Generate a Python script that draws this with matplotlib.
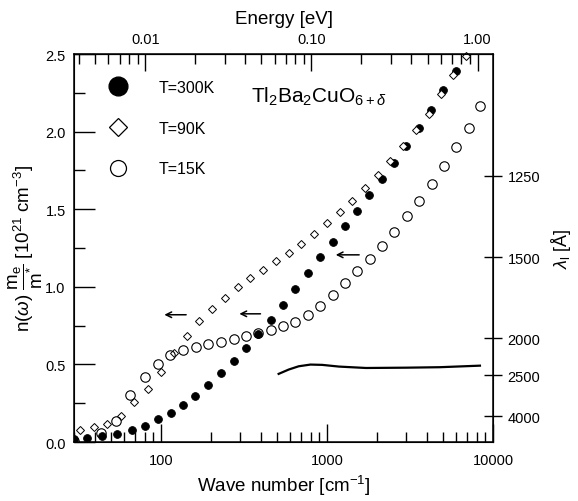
import matplotlib
matplotlib.use("Agg")
import matplotlib.pyplot as plt
from matplotlib.lines import Line2D
from matplotlib.ticker import FixedLocator, NullFormatter, NullLocator

plt.rcParams["font.family"] = ["Liberation Sans", "DejaVu Sans"]
plt.rcParams["mathtext.fontset"] = "custom"
plt.rcParams["mathtext.rm"] = "Liberation Sans"
plt.rcParams["mathtext.it"] = "Liberation Sans:italic"
plt.rcParams["mathtext.bf"] = "Liberation Sans:bold"

# T = 300 K (filled circles)
wn_300 = [30.0, 36.1, 44.1, 54.4, 66.7, 80.8, 95.9, 114.5, 136.5, 160.7, 193.5,
          231, 274, 325, 385, 458, 541, 646, 767, 907, 1083, 1285, 1514, 1798,
          2147, 2548, 2998, 3564, 4209, 5000, 5970]
n_300 = [0.019, 0.026, 0.037, 0.052, 0.077, 0.105, 0.146, 0.189, 0.237, 0.297,
         0.368, 0.447, 0.523, 0.606, 0.698, 0.788, 0.886, 0.987, 1.088, 1.189,
         1.288, 1.389, 1.489, 1.589, 1.692, 1.795, 1.907, 2.023, 2.139, 2.265, 2.392]

# T = 90 K (diamonds)
wn_90 = [32.6, 39.6, 47.7, 57.5, 69.3, 83.4, 100.4, 119.9, 144.3, 170.7, 203.8,
         243.3, 290.9, 346.2, 414, 491, 588.6, 702.6, 834, 995.8, 1194, 1424,
         1699, 2018, 2409, 2860, 3415, 4094, 4840, 5746, 6861]
n_90 = [0.079, 0.095, 0.116, 0.170, 0.256, 0.342, 0.450, 0.574, 0.682, 0.779,
        0.856, 0.929, 0.997, 1.055, 1.108, 1.165, 1.219, 1.279, 1.342, 1.411,
        1.482, 1.554, 1.637, 1.723, 1.808, 1.908, 2.008, 2.116, 2.245, 2.368, 2.49]

# T = 15 K (open circles)
wn_15 = [30.1, 43.9, 53.7, 65.5, 80.3, 95.9, 112.9, 135.9, 161.8, 192.7, 230.4,
         275.1, 325.2, 387.2, 459.1, 543.4, 646.1, 770.2, 907.1, 1083, 1285,
         1526, 1822, 2146, 2548, 3041, 3585, 4287, 5047, 6026, 7124, 8341]
n_15 = [0.005, 0.056, 0.137, 0.306, 0.421, 0.503, 0.558, 0.594, 0.610, 0.630,
        0.647, 0.665, 0.685, 0.703, 0.723, 0.746, 0.772, 0.821, 0.875, 0.948,
        1.026, 1.105, 1.181, 1.265, 1.355, 1.454, 1.554, 1.663, 1.779, 1.901,
        2.026, 2.163]

# solid curve
wn_line = [512, 589, 676, 796, 937, 1183, 1718, 2999, 4775, 8340]
n_line = [0.439, 0.467, 0.488, 0.499, 0.497, 0.486, 0.477, 0.479, 0.482, 0.492]

# arrows: (x_start, x_end, y)
arrows = [(142, 105, 0.82), (398, 297, 0.826), (1563, 1130, 1.206)]

lam_ticks = [1250, 1500, 2000, 2500, 4000]
K_LAM = 2.68e6          # n [1e21 cm^-3] = K / lambda^2
EV = 8065.5             # cm^-1 per eV

fig = plt.figure(figsize=(5.78, 5.02), dpi=100)
ax = fig.add_axes([0.128, 0.1175, 0.725, 0.7729])

ax.plot(wn_300, n_300, "o", color="black", ms=5.6, mew=0.6)
ax.plot(wn_90, n_90, "D", mfc="white", mec="black", ms=4.2, mew=0.7,
        clip_on=False)
ax.plot(wn_15, n_15, "o", mfc="none", mec="black", ms=6.8, mew=0.8)
ax.plot(wn_line, n_line, "-", color="black", lw=1.6)

for x0, x1, y in arrows:
    ax.annotate("", xy=(x1, y), xytext=(x0, y),
                arrowprops=dict(arrowstyle="->", lw=1.1, color="black",
                                shrinkA=0, shrinkB=0))

ax.set_xscale("log")
ax.set_xlim(30, 10000)
ax.set_ylim(0, 2.5)
ax.set_xticks([100, 1000, 10000])
ax.set_xticklabels(["100", "1000", "10000"])
ax.xaxis.set_minor_formatter(NullFormatter())
ax.set_yticks([0.0, 0.5, 1.0, 1.5, 2.0, 2.5])
ax.set_yticklabels(["0.0", "0.5", "1.0", "1.5", "2.0", "2.5"])
ax.yaxis.set_minor_locator(FixedLocator([0.25, 0.75, 1.25, 1.75, 2.25]))
ax.tick_params(axis="x", which="major", direction="in", length=13, width=1,
               labelsize=10.5, pad=8)
ax.tick_params(axis="x", which="minor", direction="in", length=7, width=1)
ax.tick_params(axis="y", which="major", direction="in", length=15, width=1,
               labelsize=10.5, pad=6, right=False)
ax.tick_params(axis="y", which="minor", direction="in", length=8, width=1,
               right=False)
for s in ax.spines.values():
    s.set_linewidth(1.1)

ax.set_xlabel(r"Wave number [cm$^{-1}$]", fontsize=13.5, labelpad=4)
ax.set_ylabel(r"n($\omega$) $\dfrac{\mathrm{m_e}}{\mathrm{m^{*}}}$ [10$^{21}$ cm$^{-3}$]",
              fontsize=13.5, labelpad=0)

# top energy axis
top = ax.secondary_xaxis("top", functions=(lambda w: w / EV, lambda e: e * EV))
top.set_xticks([0.01, 0.1, 1.0])
top.set_xticklabels(["0.01", "0.10", "1.00"])
top.xaxis.set_minor_formatter(NullFormatter())
top.tick_params(which="major", direction="in", length=12, width=1,
                labelsize=10.5, pad=6)
top.tick_params(which="minor", direction="in", length=7, width=1)
top.set_xlabel("Energy [eV]", fontsize=13.5, labelpad=6)

# right penetration-depth axis
ax2 = ax.twinx()
ax2.set_ylim(ax.get_ylim())
ax2.set_yticks([K_LAM / l ** 2 for l in lam_ticks])
ax2.set_yticklabels([str(l) for l in lam_ticks])
ax2.yaxis.set_minor_locator(NullLocator())
ax2.tick_params(axis="y", direction="inout", length=13, width=1,
                labelsize=10.5, pad=4)
ax2.set_ylabel(r"$\lambda_{\mathrm{l}}$ [$\mathrm{\AA}$]", fontsize=13,
               labelpad=6)

handles = [
    Line2D([], [], ls="none", marker="o", color="black", ms=13.5),
    Line2D([], [], ls="none", marker="D", mfc="white", mec="black", ms=9.5,
           mew=0.9),
    Line2D([], [], ls="none", marker="o", mfc="none", mec="black", ms=11.5,
           mew=0.9),
]
ax.legend(handles, ["T=300K", "T=90K", "T=15K"], loc="upper left",
          bbox_to_anchor=(0.152, 0.868), bbox_transform=fig.transFigure,
          frameon=False, fontsize=11.5, handlelength=2.0, handletextpad=1.5,
          labelspacing=1.62, borderpad=0.4)

ax.text(0.435, 0.807, r"Tl$_2$Ba$_2$CuO$_{6+\delta}$", transform=fig.transFigure,
        fontsize=15, va="center", ha="left")

fig.savefig("out.png", dpi=100)
